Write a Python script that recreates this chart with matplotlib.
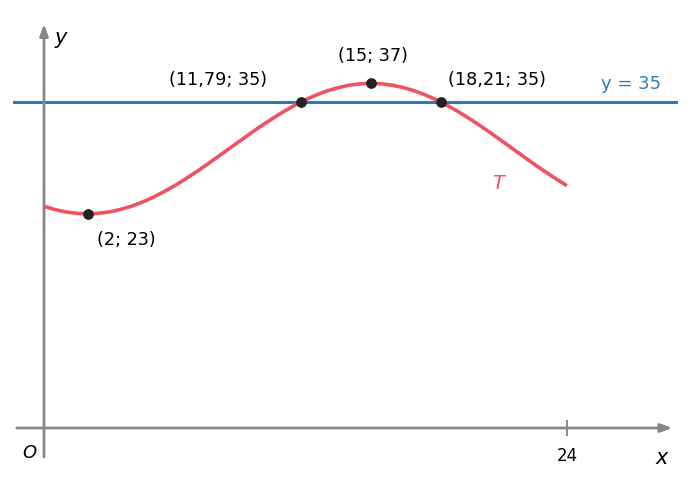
import matplotlib
matplotlib.use("Agg")
import matplotlib.pyplot as plt

# Curve T (x step 0.5)
x_vals = [0, 0.5, 1, 1.5, 2, 2.5, 3, 3.5, 4, 4.5, 5, 5.5, 6, 6.5, 7, 7.5, 8, 8.5,
          9, 9.5, 10, 10.5, 11, 11.5, 12, 12.5, 13, 13.5, 14, 14.5, 15, 15.5, 16,
          16.5, 17, 17.5, 18, 18.5, 19, 19.5, 20, 20.5, 21, 21.5, 22, 22.5, 23, 23.5, 24]
t_vals = [23.80, 23.46, 23.20, 23.05, 23.00, 23.05, 23.20, 23.46, 23.80, 24.24,
          24.76, 25.36, 26.02, 26.75, 27.52, 28.32, 29.16, 30.00, 30.84, 31.68,
          32.48, 33.25, 33.98, 34.64, 35.24, 35.76, 36.20, 36.54, 36.80, 36.95,
          37.00, 36.95, 36.80, 36.54, 36.20, 35.76, 35.24, 34.64, 33.98, 33.25,
          32.48, 31.68, 30.84, 30.00, 29.16, 28.32, 27.52, 26.75, 26.02]

# Marked points
pt_x = [2, 11.79, 15, 18.21]
pt_y = [23, 35, 37, 35]
pt_labels = ["(2; 23)", "(11,79; 35)", "(15; 37)", "(18,21; 35)"]
pt_offsets = [(39, -26), (-83, 22), (2, 27), (56, 22)]  # pixel offsets for labels

h_line = 35
x_tick = [24]

RED = "#ef5262"
BLUE = "#2b7bba"
GREY = "#888888"

fig = plt.figure(figsize=(6.9, 4.8), dpi=100)
ax = fig.add_axes([0, 0, 1, 1])
px_x = 21.79
px_y = 9.314
ax.set_xlim(-44 / px_x, (690 - 44) / px_x)
ax.set_ylim(-52 / px_y, 428 / px_y)
ax.axis("off")

# axes arrows
ax.annotate("", xy=(28.85, 0), xytext=(-1.25, 0),
            arrowprops=dict(arrowstyle="-|>,head_length=0.7,head_width=0.25",
                            color=GREY, lw=2, shrinkA=0, shrinkB=0))
ax.annotate("", xy=(0, 43.4), xytext=(0, -3.1),
            arrowprops=dict(arrowstyle="-|>,head_length=0.7,head_width=0.25",
                            color=GREY, lw=2, shrinkA=0, shrinkB=0))

# horizontal line y = 35
ax.plot([-1.38, 29.0], [h_line, h_line], color=BLUE, lw=2.2, zorder=2)

# curve
ax.plot(x_vals, t_vals, color=RED, lw=2.6, zorder=3, solid_capstyle="butt")

# points
ax.scatter(pt_x, pt_y, s=45, color="#222222", zorder=4)
for x, y, lab, off in zip(pt_x, pt_y, pt_labels, pt_offsets):
    ax.annotate(lab, (x, y), xytext=off, textcoords="offset pixels",
                ha="center", va="center", fontsize=12.7, color="black")

# tick at 24
for xt in x_tick:
    ax.plot([xt, xt], [-0.75, 0.75], color=GREY, lw=1.5)
    ax.text(xt, -3.0, str(xt), ha="center", va="center", fontsize=12)

ax.text(-0.65, -2.7, "O", ha="center", va="center", fontsize=13, style="italic")
ax.text(28.35, -3.2, "x", ha="center", va="center", fontsize=15, style="italic")
ax.text(0.75, 41.9, "y", ha="center", va="center", fontsize=15, style="italic")
ax.text(26.95, 36.9, "y = 35", ha="center", va="center", fontsize=13, color=BLUE)
ax.text(20.85, 26.2, "T", ha="center", va="center", fontsize=14, color=RED, style="italic")

fig.savefig("out.png", dpi=100)
